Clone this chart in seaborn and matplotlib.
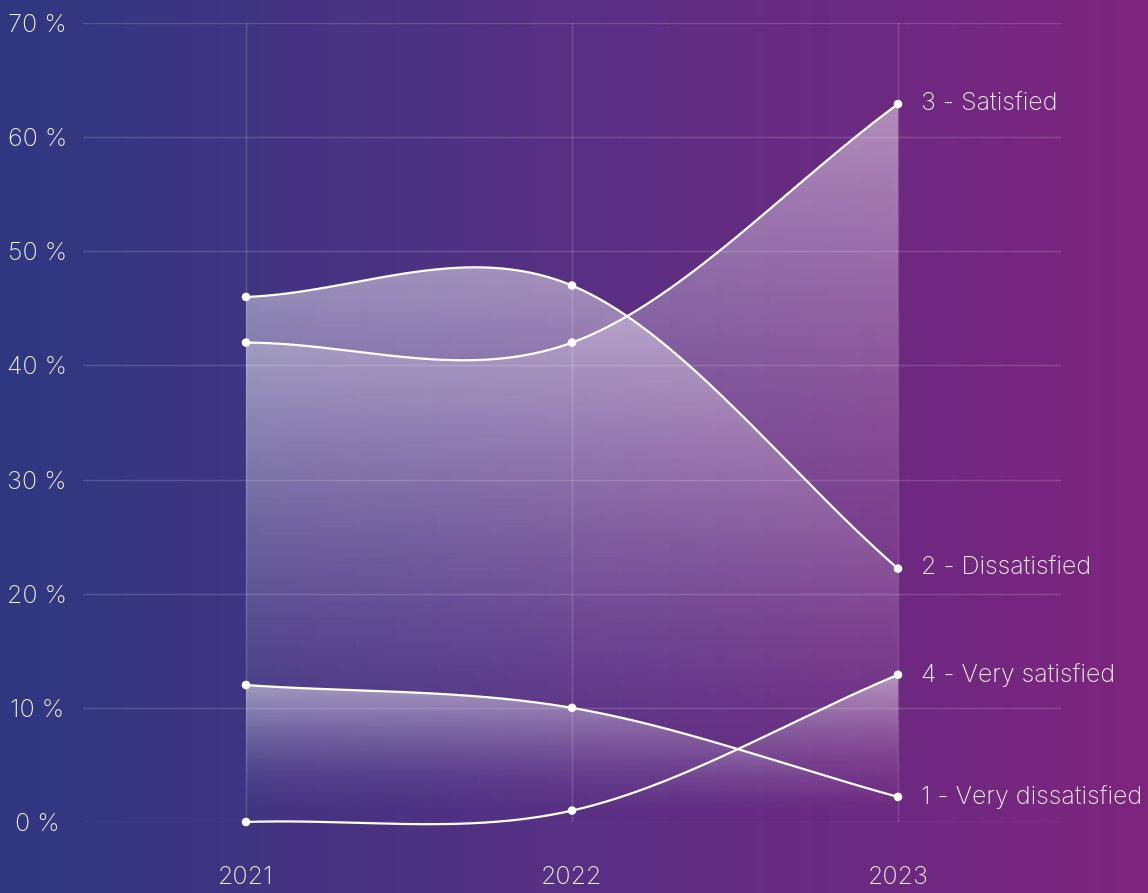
import numpy as np
import pandas as pd
import matplotlib
matplotlib.use("Agg")
import matplotlib.pyplot as plt
import seaborn as sns

# ---- data -------------------------------------------------------------
years = ["2021", "2022", "2023"]
very_dissatisfied = [12.0, 10.0, 2.2]
dissatisfied = [46.0, 47.0, 22.2]
satisfied = [42.0, 42.0, 62.9]
very_satisfied = [0.0, 1.0, 12.9]
series_names = ["1 - Very dissatisfied", "2 - Dissatisfied",
                "3 - Satisfied", "4 - Very satisfied"]
series_values = [very_dissatisfied, dissatisfied, satisfied, very_satisfied]
y_ticks = [0, 10, 20, 30, 40, 50, 60, 70]

# ---- style ------------------------------------------------------------
sns.set_theme(style="white")
plt.rcParams["font.family"] = ["Inter", "DejaVu Sans"]
TEXT = (1, 1, 1, 0.95)
FS = 18


def smooth(vals, n=120):
    """Cubic Hermite curve through the points (Catmull-Rom tangents)."""
    y = np.asarray(vals, float)
    k = len(y)
    m = np.empty(k)
    m[0] = y[1] - y[0]
    m[-1] = y[-1] - y[-2]
    m[1:-1] = (y[2:] - y[:-2]) / 2
    xs, ys = [], []
    for i in range(k - 1):
        t = np.linspace(0, 1, n, endpoint=(i == k - 2))
        h00 = 2 * t**3 - 3 * t**2 + 1
        h10 = t**3 - 2 * t**2 + t
        h01 = -2 * t**3 + 3 * t**2
        h11 = t**3 - t**2
        xs.append(i + t)
        ys.append(h00 * y[i] + h10 * m[i] + h01 * y[i + 1] + h11 * m[i + 1])
    return np.concatenate(xs), np.concatenate(ys)


points = pd.DataFrame({
    "series": np.repeat(series_names, len(years)),
    "x": np.tile(np.arange(len(years)), len(series_names)),
    "value": np.concatenate(series_values),
})
curves = []
for name, vals in zip(series_names, series_values):
    cx, cy = smooth(vals)
    curves.append(pd.DataFrame({"series": name, "x": cx, "value": cy}))
curves = pd.concat(curves, ignore_index=True)

fig = plt.figure(figsize=(11.48, 8.93), dpi=100)

# background: horizontal blue -> purple gradient
bg = fig.add_axes([0, 0, 1, 1], zorder=-10)
c_left = np.array([46, 56, 128]) / 255
c_mid = np.array([88, 48, 132]) / 255
c_right = np.array([126, 36, 126]) / 255
u = np.linspace(0, 1, 600)
cols = np.where(u[:, None] < 0.5,
                c_left + (c_mid - c_left) * (u[:, None] / 0.5),
                c_mid + (c_right - c_mid) * ((u[:, None] - 0.5) / 0.5))
bg.imshow(cols[None, :, :], aspect="auto", extent=(0, 1, 0, 1))
bg.set_axis_off()

L, R, T, B = 83, 1061, 23, 822
W, H = 1148, 893
ax = fig.add_axes([L / W, (H - B) / H, (R - L) / W, (B - T) / H])
ax.patch.set_alpha(0)
ax.set_xlim(-0.5, 2.5)
ax.set_ylim(0, 70)

# gradient area fills under each curve
for name in series_names:
    d = curves[curves["series"] == name]
    top = d["value"].max()
    poly = ax.fill_between(d["x"], d["value"], 0, facecolor="none",
                           edgecolor="none")
    yy = np.linspace(0, 1, 256)[:, None]
    alpha = 0.47 * np.clip(yy, 0, 1) ** 1.7
    img = np.ones((256, 2, 4))
    img[..., 3] = alpha
    im = ax.imshow(img, origin="lower", aspect="auto",
                   extent=(0, 2, 0, top), zorder=1, interpolation="bilinear")
    im.set_clip_path(poly.get_paths()[0], transform=ax.transData)

# grid lines
for v in y_ticks:
    ax.axhline(v, color="white", alpha=0.16, lw=1, zorder=0.5)
for i in range(len(years)):
    ax.axvline(i, color="white", alpha=0.16, lw=1, zorder=0.5)

sns.lineplot(data=curves, x="x", y="value", units="series", estimator=None,
             sort=False, color="white", lw=1.6, ax=ax, zorder=3, clip_on=False)
sns.scatterplot(data=points, x="x", y="value", color="white", s=38,
                edgecolor="none", ax=ax, zorder=4, clip_on=False)

# end labels
for name, vals in zip(series_names, series_values):
    ax.text(len(years) - 1 + 0.07, vals[-1], name, color=TEXT, fontsize=FS,
            va="center", ha="left", fontweight="light", zorder=5)

ax.set_xticks(range(len(years)))
ax.set_xticklabels(years)
ax.set_yticks(y_ticks)
ax.set_yticklabels([f"{v} %" for v in y_ticks])
ax.tick_params(axis="both", length=0, labelsize=FS, labelcolor=TEXT)
ax.tick_params(axis="x", pad=32)
ax.tick_params(axis="y", pad=33)
for lab in ax.get_yticklabels():
    lab.set_horizontalalignment("center")
    lab.set_fontweight("light")
for lab in ax.get_xticklabels():
    lab.set_fontweight("light")
ax.set_xlabel("")
ax.set_ylabel("")
for s in ax.spines.values():
    s.set_visible(False)
legend = ax.get_legend()
if legend is not None:
    legend.remove()

fig.savefig("out.png", dpi=100)
